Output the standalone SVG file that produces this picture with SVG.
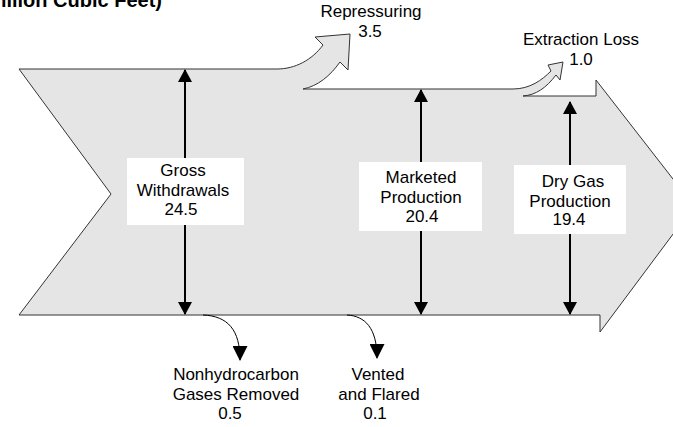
<svg xmlns="http://www.w3.org/2000/svg" width="673" height="427" viewBox="0 0 673 427">
<style>
  .t { font-family: "Liberation Sans", Arial, sans-serif; font-size: 17px; fill: #000; text-anchor: middle; }
  .title { font-family: "Liberation Sans", Arial, sans-serif; font-size: 20px; font-weight: bold; fill: #000; text-anchor: end; }
  .box { fill: #fff; stroke: none; }
  .vline { stroke: #000; stroke-width: 2; fill: none; marker-start: url(#ah); marker-end: url(#ah); }
  .cline { stroke: #000; stroke-width: 1; fill: none; marker-end: url(#ahs); }
  .flow { fill: #e5e5e5; stroke: #333; stroke-width: 1; stroke-linejoin: miter; }
</style>
<defs>
  <marker id="ah" viewBox="0 0 13 14" markerWidth="13" markerHeight="14" refX="12" refY="7" orient="auto-start-reverse" markerUnits="userSpaceOnUse">
    <path d="M0,0 L13,7 L0,14 Z" fill="#000"/>
  </marker>
  <marker id="ahs" viewBox="0 0 15 15" markerWidth="15" markerHeight="15" refX="14" refY="7.5" orient="auto" markerUnits="userSpaceOnUse">
    <path d="M0,0 L15,7.5 L0,15 Z" fill="#000"/>
  </marker>
</defs>
<rect width="673" height="427" fill="#fff"/>
<text class="title" x="162" y="7">illion Cubic Feet)</text>
<g id="flow-shape">
  <path class="flow" d="M19,69 L277,69 C295,69 312,60 323,45 L315,37 L350,34 L348,70 L340,62 C330,76 318,86 303,89 L513,89 C530,89 542,80 551,71 L548,65 L563,62 L560,80 L556,75 C546,88 536,95 523,96 L596,96 L596,80 L694,206 L600,332 L600,315 L19,315 L111,194 Z"/>
</g>
<g id="connectors">
  <line class="vline" x1="185" y1="70" x2="185" y2="314"/>
  <line class="vline" x1="421" y1="90" x2="421" y2="314"/>
  <line class="vline" x1="570" y1="102" x2="570" y2="314"/>
  <path class="cline" d="M203,315 C228,316 240,330 240,360"/>
  <path class="cline" d="M347,315 C365,316 377,328 377,358"/>
</g>
<g id="gross">
  <rect class="box" x="127" y="158" width="117" height="67"/>
  <text class="t" x="183" y="176">Gross</text>
  <text class="t" x="183" y="196">Withdrawals</text>
  <text class="t" x="181" y="215">24.5</text>
</g>
<g id="marketed">
  <rect class="box" x="359" y="162" width="123" height="69"/>
  <text class="t" x="421" y="183">Marketed</text>
  <text class="t" x="421" y="203">Production</text>
  <text class="t" x="422" y="222">20.4</text>
</g>
<g id="drygas">
  <rect class="box" x="514" y="165" width="112" height="69"/>
  <text class="t" x="573" y="187">Dry Gas</text>
  <text class="t" x="570" y="207">Production</text>
  <text class="t" x="569" y="225">19.4</text>
</g>
<g id="repressuring">
  <text class="t" x="371" y="17">Repressuring</text>
  <text class="t" x="370" y="37">3.5</text>
</g>
<g id="extraction">
  <text class="t" x="581" y="45">Extraction Loss</text>
  <text class="t" x="581" y="65">1.0</text>
</g>
<g id="nonhydrocarbon">
  <text class="t" x="236" y="380">Nonhydrocarbon</text>
  <text class="t" x="236" y="400">Gases Removed</text>
  <text class="t" x="230" y="419">0.5</text>
</g>
<g id="vented">
  <text class="t" x="378" y="380">Vented</text>
  <text class="t" x="379" y="400">and Flared</text>
  <text class="t" x="375" y="419">0.1</text>
</g>
</svg>
